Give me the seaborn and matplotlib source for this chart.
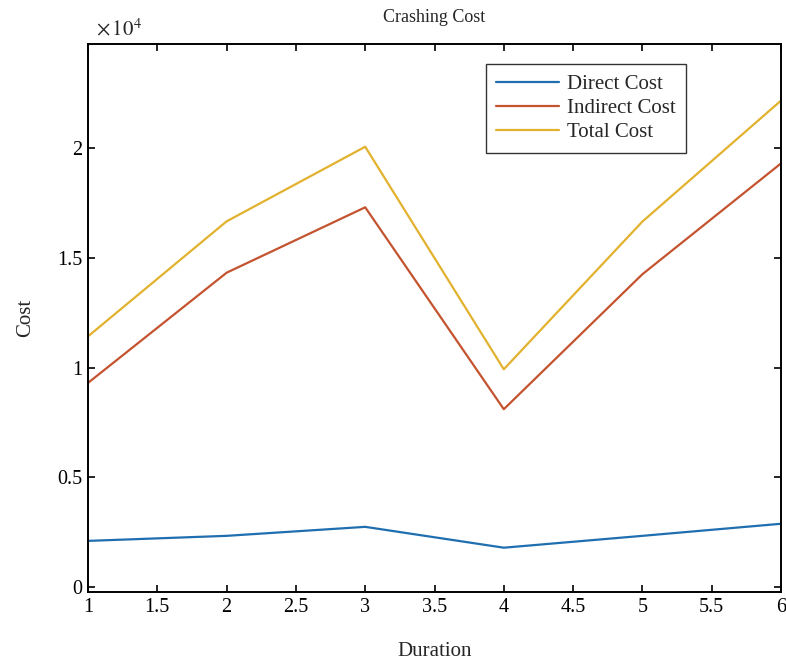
import matplotlib
matplotlib.use("Agg")
import matplotlib.pyplot as plt
import matplotlib.ticker as mticker
import seaborn as sns
import pandas as pd

duration = [1, 2, 3, 4, 5, 6]
direct_cost = [2100, 2330, 2740, 1790, 2330, 2880]
indirect_cost = [9300, 14320, 17300, 8100, 14250, 19300]
total_cost = [11420, 16660, 20060, 9920, 16650, 22160]
series_names = ["Direct Cost", "Indirect Cost", "Total Cost"]
colors = ["#1f6fb0", "#c4532f", "#e2b22e"]

df = pd.DataFrame({
    "Duration": duration * 3,
    "Cost": direct_cost + indirect_cost + total_cost,
    "Series": [series_names[0]] * 6 + [series_names[1]] * 6 + [series_names[2]] * 6,
})

sns.set_theme(style="white")
plt.rcParams["font.family"] = ["Liberation Serif", "DejaVu Serif"]
plt.rcParams["mathtext.fontset"] = "stix"

fig = plt.figure(figsize=(7.86, 6.62), dpi=100)
ax = fig.add_axes([0.112, 0.1057, 0.8816, 0.8278])

sns.lineplot(data=df, x="Duration", y="Cost", hue="Series", palette=colors,
             hue_order=series_names, ax=ax, linewidth=1.6, legend=True)

ax.set_xlim(1, 6)
ax.set_ylim(-230, 24740)
ax.set_xticks([1, 1.5, 2, 2.5, 3, 3.5, 4, 4.5, 5, 5.5, 6])
ax.xaxis.set_major_formatter(mticker.FuncFormatter(lambda v, p: f"{v:g}"))
ax.set_yticks([0, 5000, 10000, 15000, 20000])
ax.yaxis.set_major_formatter(mticker.FuncFormatter(lambda v, p: f"{v/1e4:g}"))
ax.tick_params(axis="both", which="major", direction="in", length=5, width=1.2,
               top=True, right=True, labelsize=14.5, color="black", labelcolor="black",
               bottom=True, left=True, pad=4)
for s in ax.spines.values():
    s.set_color("black")
    s.set_linewidth(1.4)
    s.set_visible(True)

ax.set_xlabel("Duration", fontsize=15, labelpad=18)
ax.set_ylabel("Cost", fontsize=15, labelpad=16)
ax.set_title("Crashing Cost", fontsize=13, pad=16)
ax.text(0.012, 1.006, r"$\times\,10^{4}$", transform=ax.transAxes, fontsize=15,
        ha="left", va="bottom")

leg = ax.legend(loc="upper left", bbox_to_anchor=(0.574, 0.9635), fontsize=15,
                frameon=True, fancybox=False, edgecolor="black", handlelength=3.0,
                borderpad=0.5, labelspacing=0.22, handletextpad=0.4,
                borderaxespad=0.0)
leg.get_frame().set_linewidth(1.0)

fig.savefig("out.png", dpi=100)
